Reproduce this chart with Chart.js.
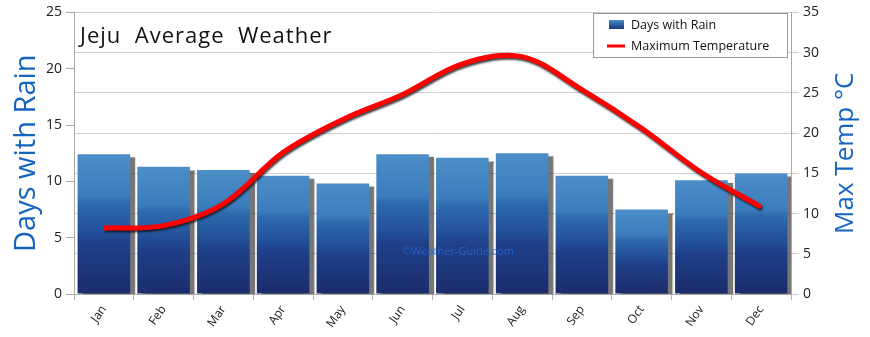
<!DOCTYPE html>
<html>
<head>
<meta charset="utf-8">
<script src="https://cdn.jsdelivr.net/npm/chart.js@4/dist/chart.umd.min.js"></script>
<style>
  html, body { margin: 0; padding: 0; background: #fff; }
  #wrap { width: 870px; height: 337px; }
</style>
</head>
<body>
<div id="wrap"><canvas id="chart-container" width="870" height="337"></canvas></div>
<script>
const months = ['Jan', 'Feb', 'Mar', 'Apr', 'May', 'Jun', 'Jul', 'Aug', 'Sep', 'Oct', 'Nov', 'Dec'];
const rainDays = [12.4, 11.3, 11.0, 10.5, 9.8, 12.4, 12.1, 12.5, 10.5, 7.5, 10.1, 10.7];
const maxTemp = [8.2, 8.5, 11.2, 17.6, 21.7, 24.8, 28.6, 29.5, 25.4, 20.6, 15.1, 10.8];
const rainTicks = [0, 5, 10, 15, 20, 25];
const tempTicks = [0, 5, 10, 15, 20, 25, 30, 35];

const FONT = "'Open Sans', 'DejaVu Sans', sans-serif";
const BLUE = '#1664c0';

// per-bar vertical gradient, dark at the base, lighter at the top
function barFill(c) {
    const chart = c.chart;
    if (!chart.chartArea || c.raw === undefined) return '#2b5fa5';
    const y = chart.scales.yRain;
    const top = y.getPixelForValue(c.raw);
    const base = y.getPixelForValue(0);
    const g = chart.ctx.createLinearGradient(0, base, 0, top);
    g.addColorStop(0, '#1b2c6c');
    g.addColorStop(0.35, '#1f3f88');
    g.addColorStop(0.45, '#22509a');
    g.addColorStop(0.65, '#2f6aaf');
    g.addColorStop(0.7, '#3b7cbc');
    g.addColorStop(1, '#4c8ec7');
    return g;
}

const shadows = {
    id: 'shadows',
    beforeDatasetDraw(chart, args) {
        const ctx = chart.ctx;
        ctx.save();
        if (args.meta.type === 'bar') {
            ctx.shadowColor = 'rgba(60,60,60,0.7)';
            ctx.shadowOffsetX = 5;
            ctx.shadowOffsetY = 3;
            ctx.shadowBlur = 1;
        } else {
            ctx.shadowColor = 'rgba(20,20,20,0.8)';
            ctx.shadowOffsetX = 1;
            ctx.shadowOffsetY = 2;
            ctx.shadowBlur = 2;
        }
    },
    afterDatasetDraw(chart) {
        chart.ctx.restore();
    }
};

// axis titles, title, watermark and legend box
const overlay = {
    id: 'overlay',
    afterDraw(chart) {
        const ctx = chart.ctx;
        const a = chart.chartArea;
        const midY = (a.top + a.bottom) / 2;
        ctx.save();
        ctx.textBaseline = 'middle';
        ctx.textAlign = 'center';
        ctx.fillStyle = BLUE;
        [[27, 'Days with Rain', 29], [846, 'Max Temp \u00B0C', 26]].forEach(([x, t, size]) => {
            ctx.save();
            ctx.font = size + "px " + FONT;
            ctx.translate(x, midY);
            ctx.rotate(-Math.PI / 2);
            ctx.fillText(t, 0, 0);
            ctx.restore();
        });

        ctx.textAlign = 'left';
        ctx.fillStyle = '#111';
        ctx.font = "22px " + FONT;
        ctx.letterSpacing = '1px';
        ctx.fillText('Jeju  Average  Weather', a.left + 6, a.top + 24);
        ctx.letterSpacing = '0px';

        ctx.fillStyle = 'rgba(40,110,220,0.75)';
        ctx.font = "11px " + FONT;
        ctx.fillText('\u00A9Weather-Guide.com', 402, 252);

        const lx = 593, ly = 13, lw = 194, lh = 44;
        ctx.fillStyle = '#fff';
        ctx.fillRect(lx, ly, lw, lh);
        ctx.strokeStyle = '#9a9a9a';
        ctx.lineWidth = 1;
        ctx.strokeRect(lx + 0.5, ly + 0.5, lw, lh);

        const ds = chart.data.datasets;
        const bar = ds.find(d => d.type === 'bar');
        const line = ds.find(d => d.type === 'line');
        const g = ctx.createLinearGradient(0, ly + 7, 0, ly + 15);
        g.addColorStop(0, '#4a8cc6');
        g.addColorStop(1, '#1f3f88');
        ctx.fillStyle = g;
        ctx.fillRect(lx + 16, ly + 7, 15, 9);
        ctx.fillStyle = '#111';
        ctx.font = "12.5px " + FONT;
        ctx.fillText(bar.label, lx + 38, ly + 12);

        ctx.strokeStyle = '#ff0000';
        ctx.lineWidth = 3;
        ctx.beginPath();
        ctx.moveTo(lx + 14, ly + 33);
        ctx.lineTo(lx + 32, ly + 33);
        ctx.stroke();
        ctx.fillText(line.label, lx + 38, ly + 33);
        ctx.restore();
    }
};

const ctx = document.getElementById('chart-container').getContext('2d');
new Chart(ctx, {
    data: {
        labels: months,
        datasets: [{
            type: 'line',
            label: 'Maximum Temperature',
            data: maxTemp,
            yAxisID: 'yTemp',
            borderColor: '#ff0000',
            borderWidth: 5,
            pointRadius: 0,
            tension: 0.35,
            order: 0
        }, {
            type: 'bar',
            label: 'Days with Rain',
            data: rainDays,
            yAxisID: 'yRain',
            backgroundColor: barFill,
            borderWidth: 0,
            categoryPercentage: 1,
            barPercentage: 0.88,
            order: 1
        }]
    },
    options: {
        responsive: false,
        animation: false,
        layout: { padding: { top: 9, left: 0, right: 0, bottom: 0 } },
        plugins: {
            legend: { display: false },
            tooltip: { enabled: false }
        },
        scales: {
            x: {
                offset: true,
                grid: {
                    offset: true,
                    drawOnChartArea: false,
                    tickLength: 6,
                    color: '#b0b0b0'
                },
                border: { color: '#a8a8a8' },
                ticks: {
                    minRotation: 55,
                    maxRotation: 55,
                    color: '#222',
                    font: { family: FONT, size: 12 }
                },
                afterFit(s) { s.height = 43; }
            },
            yRain: {
                position: 'left',
                min: 0,
                max: 25,
                afterBuildTicks(s) { s.ticks = rainTicks.map(v => ({ value: v })); },
                grid: { drawOnChartArea: false, tickLength: 8, color: '#a8a8a8' },
                border: { color: '#a8a8a8' },
                ticks: { color: '#222', padding: 4, font: { family: FONT, size: 14 } },
                afterFit(s) { s.width = 74; }
            },
            yTemp: {
                position: 'right',
                min: 0,
                max: 35,
                afterBuildTicks(s) { s.ticks = tempTicks.map(v => ({ value: v })); },
                grid: { tickLength: 8, color: '#cfcfcf' },
                border: { color: '#a8a8a8' },
                ticks: { color: '#222', padding: 4, font: { family: FONT, size: 14 } },
                afterFit(s) { s.width = 79; }
            }
        }
    },
    plugins: [shadows, overlay]
});
</script>
</body>
</html>
